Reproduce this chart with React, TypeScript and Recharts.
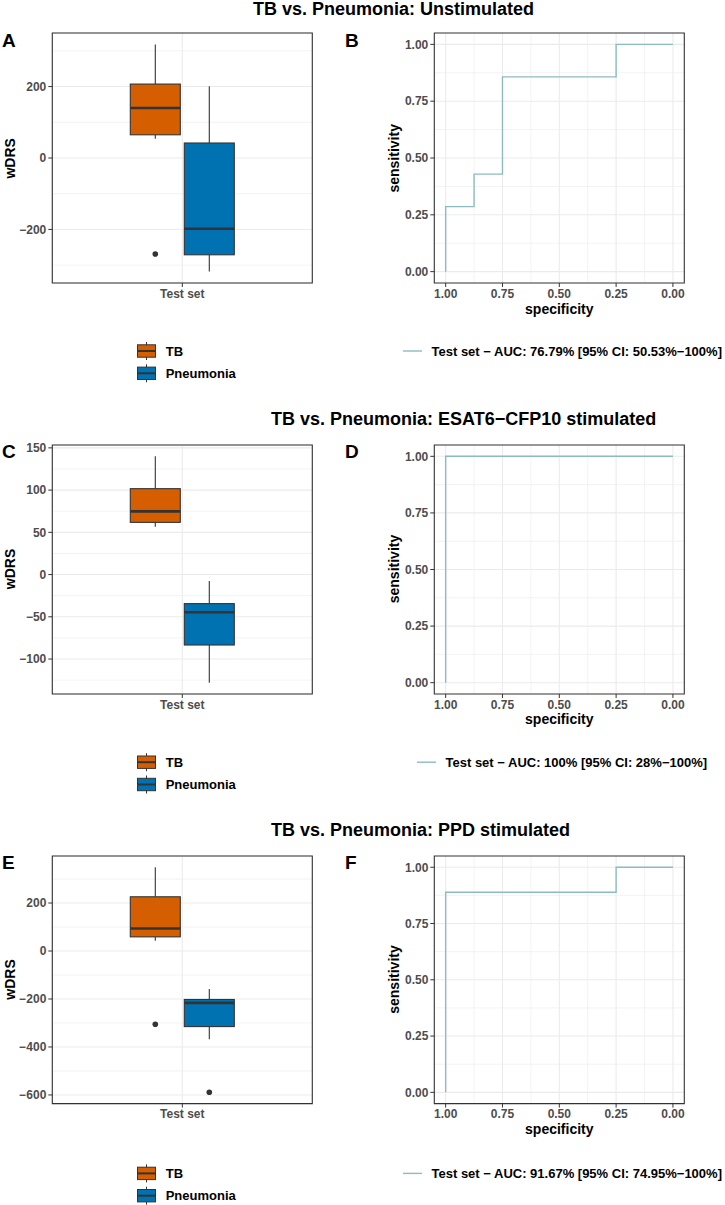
import React from "react";
import { Bar, CartesianGrid, ComposedChart, Line, LineChart, ReferenceArea, XAxis, YAxis } from "recharts";

const FONT = '"Liberation Sans", Arial, Helvetica, sans-serif';

const groups = ["TB", "Pneumonia"];
const groupColors = ["#D55E00", "#0072B2"];
const rocColor = "#8cbcc0";

const titles = [
  "TB vs. Pneumonia: Unstimulated",
  "TB vs. Pneumonia: ESAT6\u2212CFP10 stimulated",
  "TB vs. Pneumonia: PPD stimulated",
];
const aucLabels = [
  "Test set \u2212 AUC: 76.79% [95% CI: 50.53%\u2212100%]",
  "Test set \u2212 AUC: 100% [95% CI: 28%\u2212100%]",
  "Test set \u2212 AUC: 91.67% [95% CI: 74.95%\u2212100%]",
];

// lower whisker, Q1, median, Q3, upper whisker
const unstimTB = [54, 65, 140, 207, 318];
const unstimPn = [-318, -271, -198, 42, 201];
const unstimTBOut = [-269];
const unstimPnOut: number[] = [];

const esatTB = [56.6, 61.8, 74.8, 101.7, 140];
const esatPn = [-128, -83.4, -44.6, -34.4, -7.5];
const esatTBOut: number[] = [];
const esatPnOut: number[] = [];

const ppdTB = [43, 59, 94, 226, 349];
const ppdPn = [-368, -315, -216, -202, -158];
const ppdTBOut = [-305];
const ppdPnOut = [-589];

const unstimTicks = [-200, 0, 200];
const unstimMinor = [-300, -100, 100, 300];
const esatTicks = [-100, -50, 0, 50, 100, 150];
const esatMinor = [-125, -75, -25, 25, 75, 125];
const ppdTicks = [-600, -400, -200, 0, 200];
const ppdMinor = [-500, -300, -100, 100, 300];

// ROC curves: specificity / sensitivity corners
const unstimSpec = [1, 1, 0.875, 0.875, 0.75, 0.75, 0.25, 0.25, 0];
const unstimSens = [0, 0.286, 0.286, 0.429, 0.429, 0.857, 0.857, 1, 1];
const esatSpec = [1, 1, 0];
const esatSens = [0, 1, 1];
const ppdSpec = [1, 1, 0.25, 0.25, 0];
const ppdSens = [0, 0.889, 0.889, 1, 1];

const rocTicks = [0, 0.25, 0.5, 0.75, 1];
const rocMinor = [0.125, 0.375, 0.625, 0.875];

// panel geometry per row
const rowTops = [33.3, 444.5, 855.7];
const rowBottoms = [283.3, 693.5, 1103.3];
const titleX = [253, 271, 271];
const titleY = [15, 425, 836];
const rocLegendX = [403, 417, 403];

const tickStyle = { fill: "#4D4D4D", fontSize: 12, fontWeight: 700, fontFamily: FONT };
const minus = (s: string) => s.replace("-", "\u2212");

function BoxShape(props: any) {
  const { x, y, width, height, stats, outliers, fill } = props;
  const [lo, q1, med, q3, hi] = stats;
  const top = Math.min(y, y + height);
  const bottom = Math.max(y, y + height);
  const py = (v: number) => bottom - ((v - lo) / (hi - lo)) * (bottom - top);
  const cx = x + width / 2;
  return (
    <g>
      <line x1={cx} x2={cx} y1={py(hi)} y2={py(q3)} stroke="#333" strokeWidth={1.1} />
      <line x1={cx} x2={cx} y1={py(q1)} y2={py(lo)} stroke="#333" strokeWidth={1.1} />
      <rect x={x} y={py(q3)} width={width} height={py(q1) - py(q3)} fill={fill} stroke="#333" strokeWidth={1.1} />
      <line x1={x} x2={x + width} y1={py(med)} y2={py(med)} stroke="#333" strokeWidth={2.6} />
      {outliers.map((o: number, i: number) => (
        <circle key={i} cx={cx} cy={py(o)} r={2.8} fill="#333" />
      ))}
    </g>
  );
}

function BoxPanel({ row, tb, pn, tbOut, pnOut, domain, ticks, minor }: any) {
  const plotH = rowBottoms[row] - rowTops[row];
  const data = [{ name: "Test set", tb: [tb[0], tb[4]], pn: [pn[0], pn[4]] }];
  const stats = [tb, pn];
  const outs = [tbOut, pnOut];
  return (
    <div style={{ position: "absolute", left: 0, top: rowTops[row] - 20 }}>
      <ComposedChart
        width={330}
        height={plotH + 60}
        data={data}
        margin={{ top: 20, right: 17.7, bottom: 10, left: 6.3 }}
        barGap={4}
      >
        <CartesianGrid horizontalValues={minor} vertical={false} stroke="#EBEBEB" strokeWidth={0.6} />
        <CartesianGrid stroke="#EBEBEB" strokeWidth={1.1} />
        <XAxis dataKey="name" type="category" height={30} axisLine={false} tickSize={4} tickMargin={2}
          tickLine={{ stroke: "#333" }} tick={tickStyle} />
        <YAxis type="number" domain={domain} ticks={ticks} allowDataOverflow width={46} axisLine={false}
          tickSize={4} tickMargin={2} tickLine={{ stroke: "#333" }} tick={tickStyle}
          tickFormatter={(v: number) => minus(String(v))} />
        {["tb", "pn"].map((k, i) => (
          <Bar key={k} dataKey={k} name={groups[i]} fill={groupColors[i]} barSize={50} isAnimationActive={false}
            shape={(p: any) => <BoxShape {...p} stats={stats[i]} outliers={outs[i]} />} />
        ))}
        <ReferenceArea y1={domain[0]} y2={domain[1]} fill="none" stroke="#333" strokeWidth={1.1} ifOverflow="visible" />
      </ComposedChart>
    </div>
  );
}

function RocPanel({ row, spec, sens }: any) {
  const plotH = rowBottoms[row] - rowTops[row];
  const data = spec.map((s: number, i: number) => ({ spec: s, sens: sens[i] }));
  return (
    <div style={{ position: "absolute", left: 360, top: rowTops[row] - 20 }}>
      <LineChart width={340} height={plotH + 60} data={data} margin={{ top: 20, right: 15.7, bottom: 10, left: 28.3 }}>
        <CartesianGrid horizontalValues={rocMinor} verticalValues={rocMinor} stroke="#EBEBEB" strokeWidth={0.6} />
        <CartesianGrid horizontalValues={rocTicks} verticalValues={rocTicks} stroke="#EBEBEB" strokeWidth={1.1} />
        <XAxis dataKey="spec" type="number" domain={[-0.05, 1.05]} reversed ticks={rocTicks} allowDataOverflow
          height={30} axisLine={false} tickSize={4} tickMargin={2} tickLine={{ stroke: "#333" }} tick={tickStyle}
          tickFormatter={(v: number) => v.toFixed(2)} />
        <YAxis type="number" domain={[-0.05, 1.05]} ticks={rocTicks} allowDataOverflow width={46} axisLine={false}
          tickSize={4} tickMargin={2} tickLine={{ stroke: "#333" }} tick={tickStyle}
          tickFormatter={(v: number) => v.toFixed(2)} />
        <Line dataKey="sens" type="linear" stroke={rocColor} strokeWidth={1.4} dot={false} isAnimationActive={false} />
        <ReferenceArea x1={-0.05} x2={1.05} y1={-0.05} y2={1.05} fill="none" stroke="#333" strokeWidth={1.1}
          ifOverflow="visible" />
      </LineChart>
    </div>
  );
}

function BoxKey({ x, cy, color }: { x: number; cy: number; color: string }) {
  const cx = x + 9;
  return (
    <g>
      <line x1={cx} x2={cx} y1={cy - 9} y2={cy + 9} stroke="#333" strokeWidth={1} />
      <rect x={x} y={cy - 6.2} width={18} height={12.4} fill={color} stroke="#333" strokeWidth={1} />
      <line x1={x} x2={x + 18} y1={cy} y2={cy} stroke="#333" strokeWidth={2} />
    </g>
  );
}

function Overlay() {
  const labels = [["A", "B"], ["C", "D"], ["E", "F"]];
  return (
    <svg width={725} height={1205} style={{ position: "absolute", left: 0, top: 0, pointerEvents: "none" }}
      fontFamily={FONT}>
      {rowTops.map((top, r) => {
        const bottom = rowBottoms[r];
        const mid = (top + bottom) / 2;
        const keyY = [top + 317.7, top + 340];
        return (
          <g key={r}>
            <text x={titleX[r]} y={titleY[r]} fontSize={18} fontWeight={700} fill="#000">{titles[r]}</text>
            <text x={2} y={top + 13.5} fontSize={19} fontWeight={700} fill="#000">{labels[r][0]}</text>
            <text x={345} y={top + 13.5} fontSize={19} fontWeight={700} fill="#000">{labels[r][1]}</text>
            <text x={15} y={mid} fontSize={14} fontWeight={700} fill="#000" textAnchor="middle"
              transform={`rotate(-90 15 ${mid})`}>wDRS</text>
            <text x={399} y={mid} fontSize={14} fontWeight={700} fill="#000" textAnchor="middle"
              transform={`rotate(-90 399 ${mid})`}>sensitivity</text>
            <text x={559.3} y={bottom + 30.3} fontSize={14} fontWeight={700} fill="#000" textAnchor="middle">
              specificity
            </text>
            {groups.map((g, i) => (
              <g key={g}>
                <BoxKey x={137.5} cy={keyY[i]} color={groupColors[i]} />
                <text x={165.7} y={keyY[i] + 4.6} fontSize={13} fontWeight={700} fill="#000">{g}</text>
              </g>
            ))}
            <line x1={rocLegendX[r]} x2={rocLegendX[r] + 19} y1={keyY[0]} y2={keyY[0]} stroke={rocColor}
              strokeWidth={1.4} />
            <text x={rocLegendX[r] + 28.5} y={keyY[0] + 4.6} fontSize={13} fontWeight={700} fill="#000">
              {aucLabels[r]}
            </text>
          </g>
        );
      })}
    </svg>
  );
}

export default function App() {
  return (
    <div style={{ position: "relative", width: 725, height: 1205, background: "#fff", fontFamily: FONT }}>
      <style>{"body{margin:0}"}</style>
      <BoxPanel row={0} tb={unstimTB} pn={unstimPn} tbOut={unstimTBOut} pnOut={unstimPnOut}
        domain={[-350, 350]} ticks={unstimTicks} minor={unstimMinor} />
      <BoxPanel row={1} tb={esatTB} pn={esatPn} tbOut={esatTBOut} pnOut={esatPnOut}
        domain={[-141.4, 153.4]} ticks={esatTicks} minor={esatMinor} />
      <BoxPanel row={2} tb={ppdTB} pn={ppdPn} tbOut={ppdTBOut} pnOut={ppdPnOut}
        domain={[-636, 396]} ticks={ppdTicks} minor={ppdMinor} />
      <RocPanel row={0} spec={unstimSpec} sens={unstimSens} />
      <RocPanel row={1} spec={esatSpec} sens={esatSens} />
      <RocPanel row={2} spec={ppdSpec} sens={ppdSens} />
      <Overlay />
    </div>
  );
}
